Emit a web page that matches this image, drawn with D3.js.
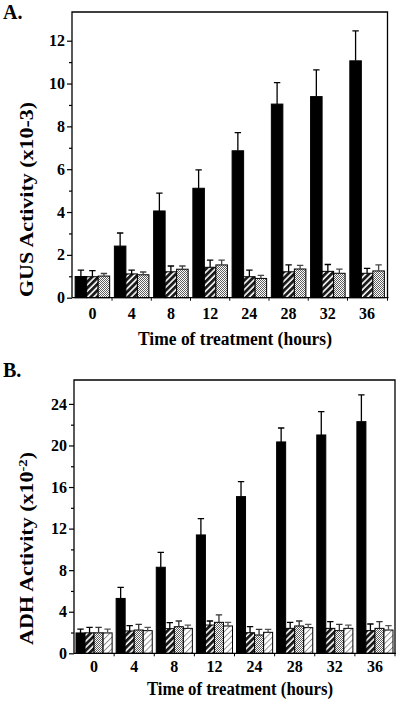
<!DOCTYPE html>
<html><head><meta charset="utf-8">
<script src="https://cdn.jsdelivr.net/npm/d3@7"></script>
<style>
body{margin:0;background:#fff}
svg{display:block}
text{font-family:"Liberation Serif","Times New Roman",serif;font-weight:bold;fill:#000}
</style>
</head><body><svg id="c" width="400" height="704"></svg>
<script>
// ---------- data ----------
const times = ["0","4","8","12","24","28","32","36"];

// Panel A: GUS activity (x10-3)
const gusSolid    = [0.99, 2.41, 4.05, 5.11, 6.86, 9.04, 9.39, 11.06];
const gusSolidErr = [0.30, 0.61, 0.83, 0.86, 0.85, 1.00, 1.25, 1.40];
const gusHatch    = [0.98, 1.11, 1.21, 1.42, 0.98, 1.21, 1.23, 1.14];
const gusHatchErr = [0.28, 0.18, 0.27, 0.33, 0.31, 0.32, 0.32, 0.23];
const gusDots     = [1.01, 1.07, 1.33, 1.53, 0.90, 1.34, 1.14, 1.25];
const gusDotsErr  = [0.12, 0.13, 0.15, 0.22, 0.14, 0.17, 0.19, 0.28];
const gusTicks = [0, 2, 4, 6, 8, 10, 12];
const gusMinor = [1, 3, 5, 7, 9, 11];

// Panel B: ADH activity (x10-2)
const adhSolid     = [1.96, 5.28, 8.28, 11.39, 15.08, 20.34, 21.01, 22.29];
const adhSolidErr  = [0.36, 1.06, 1.44, 1.57, 1.44, 1.34, 2.25, 2.57];
const adhHatch     = [1.97, 2.15, 2.37, 2.72, 1.98, 2.40, 2.40, 2.18];
const adhHatchErr  = [0.53, 0.51, 0.58, 0.39, 0.58, 0.58, 0.65, 0.64];
const adhDots      = [1.97, 2.24, 2.56, 2.98, 1.76, 2.63, 2.18, 2.40];
const adhDotsErr   = [0.53, 0.55, 0.55, 0.71, 0.55, 0.48, 0.61, 0.65];
const adhLight     = [1.96, 2.18, 2.40, 2.63, 2.02, 2.47, 2.40, 2.24];
const adhLightErr  = [0.36, 0.32, 0.32, 0.35, 0.29, 0.32, 0.32, 0.42];
const adhTicks = [0, 4, 8, 12, 16, 20, 24];
const adhMinor = [2, 6, 10, 14, 18, 22];

// ---------- drawing ----------
const svg = d3.select("#c");
const defs = svg.append("defs");

function hatch(id, size, bg, fg, w) {
  const p = defs.append("pattern").attr("id", id).attr("patternUnits", "userSpaceOnUse")
    .attr("width", size).attr("height", size).attr("patternTransform", "rotate(45)");
  p.append("rect").attr("width", size).attr("height", size).attr("fill", bg);
  p.append("rect").attr("x", 0).attr("width", w).attr("height", size).attr("fill", fg);
}
hatch("hatchDark", 4.4, "#fff", "#1a1a1a", 2.8);
hatch("hatchLight", 4.2, "#fff", "#8a8a8a", 0.9);
const dp = defs.append("pattern").attr("id", "dots").attr("patternUnits", "userSpaceOnUse")
  .attr("width", 2).attr("height", 2);
dp.append("rect").attr("width", 2).attr("height", 2).attr("fill", "#fff");
dp.append("rect").attr("width", 1).attr("height", 1).attr("fill", "#5e5e5e");
dp.append("rect").attr("x", 1).attr("y", 1).attr("width", 1).attr("height", 1).attr("fill", "#5e5e5e");

function panel(cfg) {
  const g = svg.append("g");
  const x0 = d3.scaleBand().domain(times).range([cfg.left, cfg.right])
    .paddingInner(cfg.pi).paddingOuter(cfg.po);
  const keys = d3.range(cfg.series.length);
  const x1 = d3.scaleBand().domain(keys).range([0, x0.bandwidth()]);
  const y = d3.scaleLinear().domain([0, cfg.ymax]).range([cfg.bottom, cfg.top]);

  // bars
  cfg.series.forEach((s, k) => {
    g.append("g").selectAll("rect").data(times).join("rect")
      .attr("x", t => x0(t) + x1(k))
      .attr("width", x1.bandwidth())
      .attr("y", (t, i) => y(s.v[i]))
      .attr("height", (t, i) => y(0) - y(s.v[i]))
      .attr("fill", s.fill)
      .attr("stroke", "#000").attr("stroke-width", 1);
    // error bars
    g.append("g").selectAll("path").data(times).join("path")
      .attr("d", (t, i) => {
        const cx = x0(t) + x1(k) + x1.bandwidth() / 2;
        const yt = y(s.v[i] + s.e[i]);
        return `M${cx},${y(s.v[i])}V${yt}M${cx - 3.2},${yt}H${cx + 3.2}`;
      })
      .attr("fill", "none").attr("stroke", s.errColor).attr("stroke-width", 1.3);
  });

  // frame (left, top, right)
  g.append("path")
    .attr("d", `M${cfg.left},${cfg.bottom}V${cfg.top}H${cfg.right}V${cfg.bottom}`)
    .attr("fill", "none").attr("stroke", "#000").attr("stroke-width", 1.3);
  // x axis line + separators
  g.append("path").attr("d", `M${cfg.left},${cfg.bottom}H${cfg.right + 1}`)
    .attr("stroke", "#000").attr("stroke-width", 1.3);
  const step = x0.step();
  const gap = step - x0.bandwidth();
  const seps = times.slice(1).map(t => x0(t) - gap / 2).concat([cfg.right]);
  g.append("g").selectAll("line").data(seps).join("line")
    .attr("x1", d => d).attr("x2", d => d)
    .attr("y1", cfg.bottom).attr("y2", cfg.bottom + 3)
    .attr("stroke", "#000").attr("stroke-width", 1);

  // y axis (major + minor)
  const ya = g.append("g").attr("transform", `translate(${cfg.left},0)`)
    .call(d3.axisLeft(y).tickValues(cfg.ticks).tickSize(5).tickPadding(2));
  ya.select(".domain").remove();
  ya.selectAll("text").attr("font-size", 16).attr("font-family", null);
  const ym = g.append("g").attr("transform", `translate(${cfg.left},0)`)
    .call(d3.axisLeft(y).tickValues(cfg.minor).tickSize(3).tickFormat(""));
  ym.select(".domain").remove();
  g.selectAll(".tick line").attr("stroke-width", 1.2);

  // x tick labels
  g.append("g").selectAll("text").data(times).join("text")
    .attr("x", t => x0(t) + x0.bandwidth() / 2)
    .attr("y", cfg.xLabelY)
    .attr("text-anchor", "middle").attr("font-size", 16).text(t => t);

  // titles
  g.append("text").attr("x", cfg.xTitleX).attr("y", cfg.xTitleY)
    .attr("font-size", 18).attr("textLength", cfg.xTitleLen).attr("lengthAdjust", "spacingAndGlyphs")
    .text("Time of treatment (hours)");
  const yt = g.append("text")
    .attr("transform", `translate(${cfg.yTitleX},${cfg.yTitleY}) rotate(-90)`)
    .attr("font-size", 18).attr("textLength", cfg.yTitleLen).attr("lengthAdjust", "spacingAndGlyphs");
  yt.append("tspan").text(cfg.yTitle);
  if (cfg.yExp) {
    yt.append("tspan").attr("dy", -6).attr("font-size", 12).text(cfg.yExp);
    yt.append("tspan").attr("dy", 6).text(")");
  }
  g.append("text").attr("x", 3).attr("y", cfg.letterY)
    .attr("font-size", 20).text(cfg.letter);
}

panel({
  letter: "A.", letterY: 18.5,
  left: 72, right: 387.5, top: 12, bottom: 297.7, ymax: 13.34,
  pi: 0.12, po: 0.08,
  ticks: gusTicks, minor: gusMinor,
  xLabelY: 318.5, xTitleX: 138, xTitleY: 344.5, xTitleLen: 194,
  yTitleX: 33, yTitleY: 297, yTitleLen: 195,
  yTitle: "GUS Activity (x10-3)",
  series: [
    { v: gusSolid, e: gusSolidErr, fill: "#000", errColor: "#000" },
    { v: gusHatch, e: gusHatchErr, fill: "url(#hatchDark)", errColor: "#000" },
    { v: gusDots,  e: gusDotsErr,  fill: "url(#dots)", errColor: "#444" }
  ]
});

panel({
  letter: "B.", letterY: 376.5,
  left: 74, right: 395, top: 380, bottom: 653.3, ymax: 26.3,
  pi: 0.1, po: 0.05,
  ticks: adhTicks, minor: adhMinor,
  xLabelY: 672, xTitleX: 147, xTitleY: 695, xTitleLen: 186,
  yTitleX: 33, yTitleY: 645, yTitleLen: 193,
  yTitle: "ADH Activity (x10", yExp: "-2",
  series: [
    { v: adhSolid, e: adhSolidErr, fill: "#000", errColor: "#000" },
    { v: adhHatch, e: adhHatchErr, fill: "url(#hatchDark)", errColor: "#000" },
    { v: adhDots,  e: adhDotsErr,  fill: "url(#dots)", errColor: "#333" },
    { v: adhLight, e: adhLightErr, fill: "url(#hatchLight)", errColor: "#555" }
  ]
});
</script>
</body></html>
